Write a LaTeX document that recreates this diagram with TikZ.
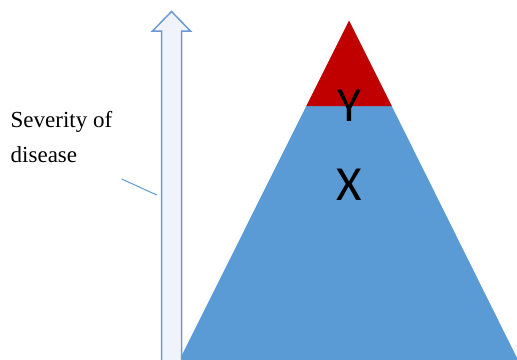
\documentclass[tikz,border=0pt]{standalone}
\usepackage{fontspec}
\setmainfont{Liberation Serif}
\newfontfamily\pyrfont{Carlito}
\definecolor{pyrblue}{HTML}{5B9BD5}
\definecolor{pyrred}{HTML}{C00000}
\definecolor{arrline}{HTML}{6E9AD3}
\definecolor{arrfill}{HTML}{F0F4FA}

\begin{document}
\begin{tikzpicture}[x=1pt,y=-1pt,line join=miter,
  layer/.style={font=\pyrfont\fontsize{49}{50}\selectfont,inner sep=0pt,anchor=base},
  axislabel/.style={font=\fontsize{23}{26}\selectfont,inner sep=0pt,anchor=base west}]
  \useasboundingbox (0,0) rectangle (517,359);
  \begin{scope}
    \clip (0,0) rectangle (517,359);
    \coordinate (T) at (349,20.5);
    \coordinate (L) at (306.25,106);
    \coordinate (R) at (391.75,106);
    \fill[pyrblue] (L) -- (R) -- (519,362) -- (178.5,362) -- cycle;
    \fill[pyrred] (T) -- (R) -- (L) -- cycle;
    \fill[arrfill] (161.5,362) -- (161.5,31) -- (152.5,31) -- (171.5,11.5)
      -- (190.5,31) -- (181.5,31) -- (181.5,362) -- cycle;
    \draw[arrline,line width=1.5pt] (161.5,362) -- (161.5,31) -- (152.5,31) -- (171.5,11.5)
      -- (190.5,31) -- (181.5,31) -- (181.5,362);
  \end{scope}
  \node[layer] (y) at (349,121.7) {Y};
  \node[layer] (x) at (349,200.7) {X};
  \node[axislabel] (sev) at (10.5,127.3) {Severity of};
  \node[axislabel] (dis) at (10.5,162.3) {disease};
  \coordinate (c1) at (121.7,179);
  \coordinate (c2) at (156.7,195);
  \draw[pyrblue,line width=1pt] (c1) -- (c2);
\end{tikzpicture}
\end{document}
